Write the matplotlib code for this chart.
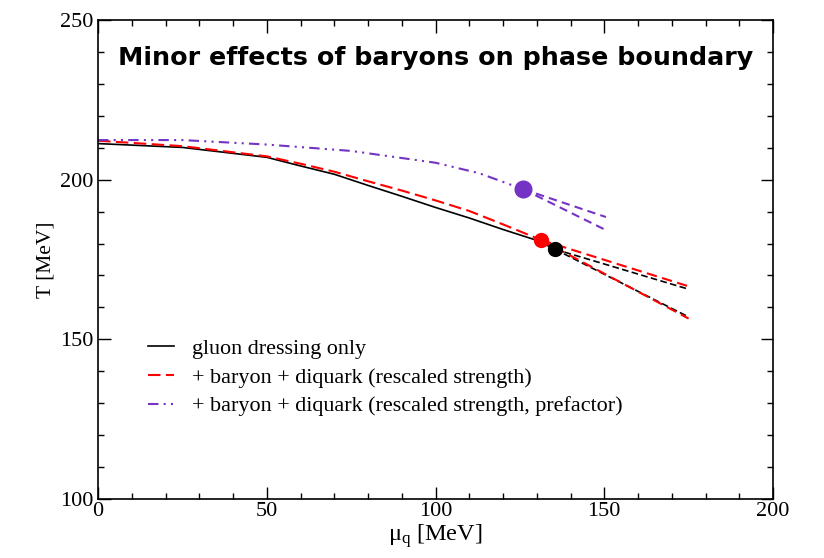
import matplotlib
matplotlib.use('Agg')
import matplotlib.pyplot as plt
from matplotlib.ticker import MultipleLocator

plt.rcParams['font.family'] = ['Liberation Serif', 'DejaVu Serif']
plt.rcParams['mathtext.fontset'] = 'custom'
plt.rcParams['mathtext.rm'] = 'Liberation Serif'

# phase boundary T(mu_q) in MeV
mu_gluon = [0, 25, 50, 60, 70, 80, 90, 100, 110, 120, 130, 135.4]
T_gluon = [211.3, 210.1, 207.0, 204.3, 201.7, 198.2, 194.8, 191.3, 188.0, 184.4, 181.0, 178.2]

mu_bary = [0, 25, 50, 60, 70, 80, 90, 100, 110, 120, 131.3]
T_bary = [212.2, 210.5, 207.3, 205.0, 202.5, 199.5, 196.6, 193.5, 190.2, 186.0, 181.1]

mu_pref = [0, 25, 50, 75, 100, 113, 126.0]
T_pref = [212.4, 212.4, 211.0, 209.0, 205.3, 202.0, 197.0]

# critical end points
cep_mu = [135.4, 131.3, 126.0]
cep_T = [178.2, 181.1, 197.0]

# spinodal branches beyond the CEP (upper, lower)
br_gluon_mu = [135.4, 175]
br_gluon_up = [178.2, 165.7]
br_gluon_lo = [178.2, 157.0]
br_bary_mu = [131.3, 175]
br_bary_up = [181.1, 166.6]
br_bary_lo = [181.1, 156.5]
br_pref_mu = [126.0, 150.5]
br_pref_up = [197.0, 188.3]
br_pref_lo = [197.0, 184.2]

labels = ['gluon dressing only',
          '+ baryon + diquark (rescaled strength)',
          '+ baryon + diquark (rescaled strength, prefactor)']
purple = '#7433c4'

fig = plt.figure(figsize=(8.24, 5.58), dpi=100)
ax = fig.add_axes([98/824, 1 - 499/558, 675/824, 479/558])

ax.plot(mu_gluon, T_gluon, color='black', lw=1.2, label=labels[0])
ax.plot(mu_bary, T_bary, color='red', lw=1.5, dashes=(6, 2.6), label=labels[1])
ax.plot(mu_pref, T_pref, color=purple, lw=1.5, dashes=(5, 2.5, 1, 2.5, 1, 2.5), label=labels[2])

ax.plot(br_gluon_mu, br_gluon_up, color='black', lw=1.2, dashes=(4, 2))
ax.plot(br_gluon_mu, br_gluon_lo, color='black', lw=1.2, dashes=(4, 2))
ax.plot(br_bary_mu, br_bary_up, color='red', lw=1.5, dashes=(5, 2.6))
ax.plot(br_bary_mu, br_bary_lo, color='red', lw=1.5, dashes=(5, 2.6))
ax.plot(br_pref_mu, br_pref_up, color=purple, lw=1.5, dashes=(4, 2.5))
ax.plot(br_pref_mu, br_pref_lo, color=purple, lw=1.5, dashes=(4, 2.5))

ax.plot(cep_mu[2], cep_T[2], 'o', color=purple, ms=12)
ax.plot(cep_mu[1], cep_T[1], 'o', color='red', ms=10)
ax.plot(cep_mu[0], cep_T[0], 'o', color='black', ms=10)

ax.set_xlim(0, 200)
ax.set_ylim(100, 250)
ax.xaxis.set_major_locator(MultipleLocator(50))
ax.xaxis.set_minor_locator(MultipleLocator(10))
ax.yaxis.set_major_locator(MultipleLocator(50))
ax.yaxis.set_minor_locator(MultipleLocator(10))
ax.tick_params(which='both', direction='in', top=True, right=True, labelsize=16, width=1)
ax.tick_params(which='major', length=9)
ax.tick_params(which='minor', length=4.5)
ax.tick_params(axis='x', pad=2)
for sp in ax.spines.values():
    sp.set_linewidth(1.2)

ax.set_xlabel(r'$\mathregular{μ_q}$ [MeV]', fontsize=17.5, labelpad=1)
ax.set_ylabel('T [MeV]', fontsize=15.5, labelpad=3)

ax.text(0.5, 0.921, 'Minor effects of baryons on phase boundary', transform=ax.transAxes,
        ha='center', va='center', fontsize=18.3, fontweight='bold', family='DejaVu Sans')

ax.legend(loc='upper left', bbox_to_anchor=(0.074, 0.335), frameon=False, fontsize=15.9,
          handlelength=1.2, handletextpad=0.8, labelspacing=0.37, borderpad=0, borderaxespad=0)

fig.savefig('out.png', dpi=100)
